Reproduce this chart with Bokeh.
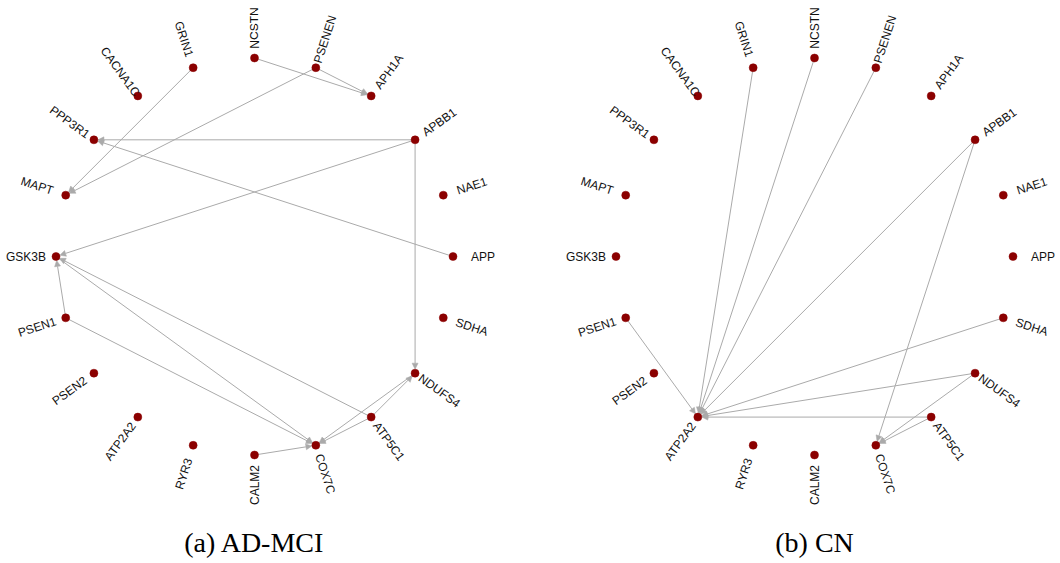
import math
from bokeh.plotting import figure
from bokeh.models import Range1d, ColumnDataSource, Arrow, NormalHead
from bokeh.core.properties import value
from bokeh.embed import file_html
from bokeh.resources import INLINE

# ---------------- data ----------------
nodes = ["NCSTN", "PSENEN", "APH1A", "APBB1", "NAE1", "APP", "SDHA", "NDUFS4",
         "ATP5C1", "COX7C", "CALM2", "RYR3", "ATP2A2", "PSEN2", "PSEN1", "GSK3B",
         "MAPT", "PPP3R1", "CACNA1C", "GRIN1"]

ad_src = ["NCSTN", "PSENEN", "PSENEN", "GRIN1", "APBB1", "APP", "APBB1", "APBB1",
          "PSEN1", "PSEN1", "GSK3B", "ATP5C1", "CALM2", "NDUFS4", "ATP5C1", "ATP5C1"]
ad_dst = ["APH1A", "APH1A", "MAPT", "MAPT", "PPP3R1", "PPP3R1", "GSK3B", "NDUFS4",
          "GSK3B", "COX7C", "COX7C", "GSK3B", "COX7C", "COX7C", "COX7C", "NDUFS4"]

cn_src = ["GRIN1", "NCSTN", "PSENEN", "APBB1", "PSEN1", "SDHA", "NDUFS4", "ATP5C1",
          "APBB1", "NDUFS4", "ATP5C1"]
cn_dst = ["ATP2A2", "ATP2A2", "ATP2A2", "ATP2A2", "ATP2A2", "ATP2A2", "ATP2A2", "ATP2A2",
          "COX7C", "COX7C", "COX7C"]

captions = ["(a) AD-MCI", "(b) CN"]

# ---------------- layout / style ----------------
W, H = 1060, 563
centers = [(254.0, 307.0), (814.0, 307.0)]
R = 198.5
LABEL_D = 30.0
NODE_R = 4.0
EDGE_COLOR = "#aaaaaa"
NODE_COLOR = "#8b0000"

p = figure(width=W, height=H, output_backend="svg", toolbar_location=None,
           x_range=Range1d(0, W), y_range=Range1d(563 - H, 563),
           min_border=0, outline_line_color=None)
p.axis.visible = False
p.grid.visible = False
p.background_fill_color = "white"
p.border_fill_color = "white"

angles = [math.radians(90 - 18 * i) for i in range(len(nodes))]


def panel(cx, cy, src, dst, caption):
    pos = {n: (cx + R * math.cos(a), cy + R * math.sin(a)) for n, a in zip(nodes, angles)}
    # edges
    x0, y0, x1, y1 = [], [], [], []
    for s, d in zip(src, dst):
        sx, sy = pos[s]
        dx, dy = pos[d]
        L = math.hypot(dx - sx, dy - sy)
        ux, uy = (dx - sx) / L, (dy - sy) / L
        x0.append(sx)
        y0.append(sy)
        x1.append(dx - ux * NODE_R)
        y1.append(dy - uy * NODE_R)
    es = ColumnDataSource(dict(x0=x0, y0=y0, x1=x1, y1=y1))
    arr = Arrow(end=NormalHead(size=6, fill_color=EDGE_COLOR, line_color=EDGE_COLOR, line_width=0.5),
                x_start="x0", y_start="y0", x_end="x1", y_end="y1", source=es,
                line_color=EDGE_COLOR, line_width=1, level="underlay")
    p.add_layout(arr)
    # nodes
    p.scatter([pos[n][0] for n in nodes], [pos[n][1] for n in nodes], size=8,
              fill_color=NODE_COLOR, line_color=NODE_COLOR, line_width=0.5)
    # labels (centred at a fixed distance beyond each node, rotated radially)
    lx, ly, la = [], [], []
    for i, (n, a) in enumerate(zip(nodes, angles)):
        lx.append(cx + (R + LABEL_D) * math.cos(a))
        ly.append(cy + (R + LABEL_D) * math.sin(a))
        la.append(a if i < 10 else a - math.pi)
    ls = ColumnDataSource(dict(x=lx, y=ly, t=nodes, a=la))
    p.text(x="x", y="y", text="t", angle="a", source=ls,
           text_align="center", text_baseline="middle", text_font=value("Liberation Sans"),
           text_font_size="12px", text_color="#111111")
    p.text(x=[cx], y=[21], text=[caption], text_align="center", text_baseline="middle",
           text_font=value("Liberation Serif"), text_font_size="28px", text_color="black")


panel(centers[0][0], centers[0][1], ad_src, ad_dst, captions[0])
panel(centers[1][0], centers[1][1], cn_src, cn_dst, captions[1])

open("out.html", "w").write(file_html(p, INLINE))
